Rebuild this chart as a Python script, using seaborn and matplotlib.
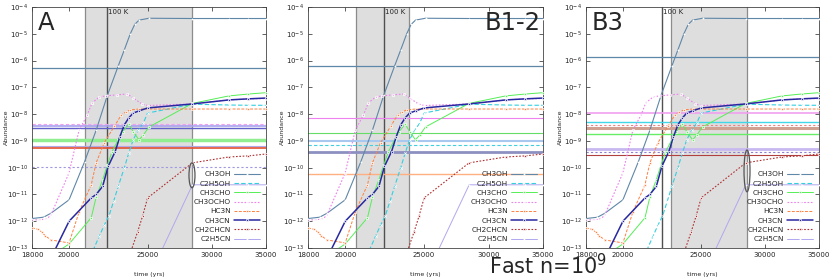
import numpy as np
import matplotlib
matplotlib.use("Agg")
import matplotlib.pyplot as plt
import seaborn as sns
from matplotlib.patches import Ellipse
from matplotlib.ticker import FixedLocator, NullLocator

# ---- model curves: time (yrs) and log10 abundance ----
t_ch3oh = [18000, 18600, 19000, 20000, 20900, 21600, 22300, 23000, 23400, 23800, 24100, 24400, 25100, 28400, 31500, 33300, 35000]
y_ch3oh = [-11.9, -11.85, -11.7, -11.2, -9.78, -8.6, -7.3, -6.2, -5.6, -5.0, -4.65, -4.49, -4.42, -4.43, -4.43, -4.43, -4.43]

t_c2h5oh = [21400, 21800, 22100, 22400, 22700, 23000, 23400, 23700, 24000, 24350, 24700, 25000, 28400, 31500, 33300, 35000]
y_c2h5oh = [-13.1, -12.55, -12.15, -11.8, -11.25, -10.7, -10.0, -9.45, -8.95, -8.6, -8.33, -7.96, -7.63, -7.66, -7.67, -7.67]

t_ch3cho = [19000, 20000, 21300, 21600, 22000, 22300, 22600, 23000, 23300, 23700, 24000, 24400, 24700, 25100, 28400, 31500, 33300, 35000]
y_ch3cho = [-13.3, -12.85, -11.87, -11.1, -10.45, -9.9, -9.4, -8.95, -8.65, -8.37, -8.66, -8.96, -8.78, -8.48, -7.6, -7.32, -7.25, -7.2]

t_ch3ocho = [18000, 18300, 18600, 18800, 19000, 20000, 20580, 21050, 21350, 21800, 22200, 22900, 23600, 24000, 24600, 25000, 28400, 31500, 33300, 35000]
y_ch3ocho = [-11.95, -11.95, -11.93, -11.9, -11.76, -10.19, -8.59, -8.05, -7.58, -7.36, -7.32, -7.28, -7.25, -7.4, -7.62, -7.68, -7.62, -7.47, -7.43, -7.42]

t_hc3n = [18000, 18300, 18500, 18700, 19000, 20000, 20580, 21300, 21600, 22100, 22750, 23200, 23500, 23800, 24400, 28400, 31500, 33300, 35000]
y_hc3n = [-12.25, -12.3, -12.4, -12.55, -12.7, -12.81, -11.65, -10.64, -9.82, -9.07, -8.45, -8.03, -7.92, -7.84, -7.81, -7.81, -7.81, -7.81, -7.81]

t_ch3cn = [19000, 20000, 21300, 21600, 22000, 22350, 22800, 23100, 23400, 23700, 24000, 24400, 25000, 28400, 31500, 33300, 35000]
y_ch3cn = [-13.37, -12.0, -11.13, -11.0, -10.7, -9.95, -9.4, -8.85, -8.4, -8.14, -7.96, -7.88, -7.77, -7.62, -7.47, -7.43, -7.4]

t_ch2chcn = [23700, 24300, 24650, 25000, 28400, 31500, 33300, 35000]
y_ch2chcn = [-13.35, -12.4, -11.8, -11.13, -9.82, -9.6, -9.56, -9.49]

t_c2h5cn = [25500, 28400, 31500, 33300, 35000]
y_c2h5cn = [-13.65, -10.64, -10.64, -10.64, -10.64]

species = ["CH3OH", "C2H5OH", "CH3CHO", "CH3OCHO", "HC3N", "CH3CN", "CH2CHCN", "C2H5CN"]
times = [t_ch3oh, t_c2h5oh, t_ch3cho, t_ch3ocho, t_hc3n, t_ch3cn, t_ch2chcn, t_c2h5cn]
logab = [y_ch3oh, y_c2h5oh, y_ch3cho, y_ch3ocho, y_hc3n, y_ch3cn, y_ch2chcn, y_c2h5cn]

# ---- per-panel settings: warm-up window, 100 K time, observed levels ----
panel_names = ["A", "B1-2", "B3"]
window_start = [20930, 20620, 22940]
window_end = [28360, 23950, 28500]
t_100k = [22280, 22320, 22360]

obs_A = [-6.28, -8.38, -8.46, -8.52, -8.96, -9.19, -9.27, -9.98]
obs_B12 = [-6.19, -8.15, -8.71, -9.02, -9.15, -9.40, -10.23]
obs_B3 = [-5.85, -7.97, -8.30, -8.41, -8.51, -8.74, -9.30, -9.43, -9.52]
obs_levels = [obs_A, obs_B12, obs_B3]

# ellipse marks (log10 abundance range at end of window), None if absent
ellipse_lo = [-10.75, None, -10.9]
ellipse_hi = [-9.82, None, -9.34]

# ---- styles ----
colors = ["#5f87a8", "#33d0e0", "#55ee55", "#ee80ee", "#ff8040", "#2828a0", "#b03030", "#b0a8ee"]
lstyles = ["-", (0, (4, 2)), "-", (0, (1.5, 1.5)), (0, (3, 1.5)), "-", (0, (1.5, 1.5)), "-"]
markers = ["+", "x", "s", "s", "s", "s", "s", "+"]
mfcs = [None, None, None, "none", None, None, None, None]
lws = [0.8, 0.8, 0.7, 0.8, 0.7, 1.1, 0.8, 0.7]

obs_styles = [
    [("#5f87a8", "-", 0.9), ("#f0a0f0", (0, (3, 2)), 0.8), ("#a8a0f0", "-", 1.2), ("#6060c8", "-", 1.0),
     ("#90ee90", "-", 2.5), ("#b0a8e8", "-", 0.8), ("#e05030", "-", 1.2), ("#a098e0", (0, (2, 2)), 0.8)],
    [("#5f87a8", "-", 0.9), ("#ee82ee", "-", 0.8), ("#66dd66", "-", 0.8), ("#a8c8f0", "-", 1.5),
     ("#40d0e0", (0, (3, 2)), 0.8), ("#8c90c0", "-", 2.0), ("#ffb080", "-", 1.0)],
    [("#5f87a8", "-", 0.9), ("#f0a0f0", "-", 1.2), ("#40d8e8", "-", 1.0), ("#f08080", (0, (2, 2)), 0.8),
     ("#d0a090", "-", 2.2), ("#66ee66", "-", 1.0), ("#c8b8f0", "-", 2.0), ("#9080d0", (0, (2, 2)), 0.8),
     ("#b04040", "-", 0.8)],
]

sns.set_theme(style="ticks")
plt.rcParams['font.family'] = ['DejaVu Sans']

fig = plt.figure(figsize=(8.3, 2.77), dpi=100)
lefts = [32 / 830, 308 / 830, 586 / 830]
widths = [234 / 830, 235 / 830, 233 / 830]
bottom = 1 - 248 / 277
height = 241 / 277

xmin, xmax = 18000, 35000
ymin_log, ymax_log = -13, -4

for i, name in enumerate(panel_names):
    ax = fig.add_axes([lefts[i], bottom, widths[i], height])
    ax.set_xscale("log")
    ax.set_yscale("log")

    # warm-up window and 100 K marker
    ax.axvspan(window_start[i], window_end[i], color="#dedede", zorder=0, lw=0)
    ax.axvline(window_start[i], color="#8c8c8c", lw=0.9, zorder=1)
    ax.axvline(window_end[i], color="#8c8c8c", lw=0.9, zorder=1)
    ax.axvline(t_100k[i], color="#505050", lw=1.0, zorder=1)
    ax.text(t_100k[i] * 1.003, 10 ** -4.2, "100 K", fontsize=5, ha="left", va="center")

    # observed levels
    for lev, (c, ls, lw) in zip(obs_levels[i], obs_styles[i]):
        ax.axhline(10 ** lev, color=c, ls=ls, lw=lw, zorder=2)

    # model curves
    for k, sp in enumerate(species):
        kw = dict(marker=markers[k], ms=1.7, mew=0.5)
        if mfcs[k] is not None:
            kw["mfc"] = mfcs[k]
        sns.lineplot(x=times[k], y=10 ** np.array(logab[k]), ax=ax, color=colors[k],
                     linestyle=lstyles[k], lw=lws[k], label=sp, zorder=3, **kw)

    # ellipse around the end-of-window spread
    if ellipse_lo[i] is not None:
        fx = (np.log10(window_end[i]) - np.log10(xmin)) / (np.log10(xmax) - np.log10(xmin))
        fy = (0.5 * (ellipse_lo[i] + ellipse_hi[i]) - ymin_log) / (ymax_log - ymin_log)
        fh = (ellipse_hi[i] - ellipse_lo[i]) / (ymax_log - ymin_log)
        ax.add_patch(Ellipse((fx, fy), 6 / (widths[i] * 830), fh, transform=ax.transAxes,
                             fill=False, ec="#555555", lw=0.9, zorder=4))

    ax.set_xlim(xmin, xmax)
    ax.set_ylim(10 ** ymin_log, 10 ** ymax_log)
    ax.xaxis.set_major_locator(FixedLocator([18000, 20000, 25000, 30000, 35000]))
    ax.set_xticklabels(["18000", "20000", "25000", "30000", "35000"])
    ax.xaxis.set_minor_locator(NullLocator())
    ax.yaxis.set_major_locator(FixedLocator(10.0 ** np.arange(-13, -3)))
    ax.yaxis.set_minor_locator(NullLocator())
    ax.tick_params(direction="in", top=True, right=True, length=3, width=0.5,
                   labelsize=5, pad=3, colors="#222222")
    for s in ax.spines.values():
        s.set_linewidth(0.6)
        s.set_color("#444444")

    ax.set_xlabel("time (yrs)", fontsize=4.5)
    ax.set_ylabel("Abundance", fontsize=4.5)
    ax.xaxis.set_label_coords(0.5, -0.1)
    ax.yaxis.set_label_coords(-0.1, 0.5)

    ax.legend(loc="lower right", markerfirst=False, frameon=False, fontsize=5.3,
              handlelength=3.5, labelspacing=0.42, borderaxespad=0.4, handletextpad=0.5)

    if name == "B1-2":
        ax.text(0.99, 0.985, name, transform=ax.transAxes, fontsize=17.5, ha="right", va="top")
    else:
        ax.text(0.025, 0.985, name, transform=ax.transAxes, fontsize=17.5, ha="left", va="top")

fig.text(548 / 830, 1 - 266 / 277, "Fast n=$10^9$", ha="center", va="center", fontsize=15)

fig.savefig("out.png", dpi=100)
